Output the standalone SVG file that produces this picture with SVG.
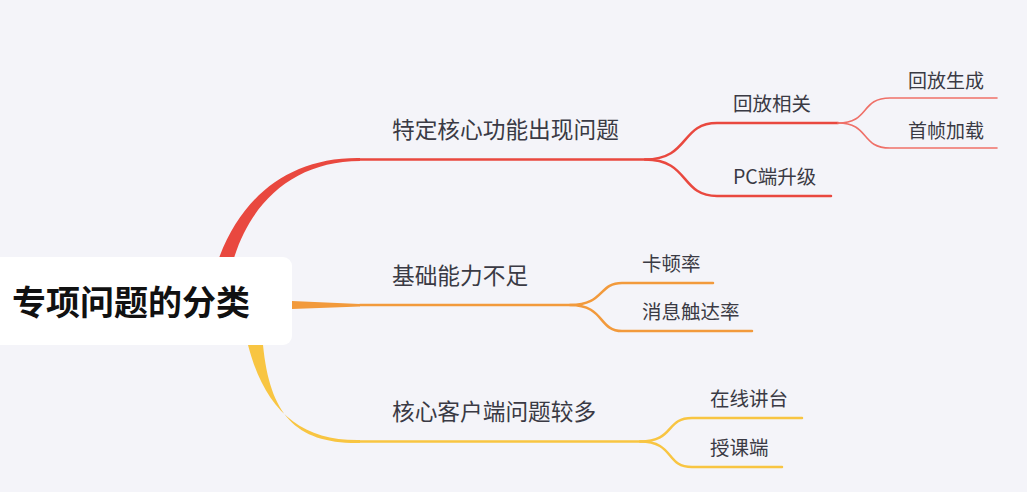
<svg xmlns="http://www.w3.org/2000/svg" width="1027" height="492" viewBox="0 0 1027 492">
<style>
.t{font-family:"Noto Sans CJK SC","Noto Sans",sans-serif;fill:#3a3a44}
.main{font-size:22.7px}
.sub{font-size:19.5px}
.leaf{font-size:19px}
.ln{fill:none;stroke-linecap:round}
.r{stroke:#e9483f}
.rl{stroke:#ef7068}
.o{stroke:#f29a3c}
.y{stroke:#f8c542}
</style>
<rect width="1027" height="492" fill="#f4f4f9"/>
<g id="connectors">
<path d="M219,258 C242,196 290,157 360,158 L360,161 C296,161 252,200 234,258 Z" fill="#e9483f"/>
<path d="M292,301 L360,304 L360,306.5 L292,309 Z" fill="#f29a3c"/>
<path d="M248,345 C265,410 300,441 360,440 L360,443 C296,444 270,415 263,345 Z" fill="#f8c542"/>
<path class="ln r" d="M360,159.5 H645 C690,159.5 680,123 717,123 H838" stroke-width="2.5"/>
<path class="ln r" d="M645,159.5 C690,159.5 680,196 717,196 H831" stroke-width="2.5"/>
<path class="ln rl" d="M838,123 C870,123 860,98 890,98 H997" stroke-width="1.6"/>
<path class="ln rl" d="M838,123 C870,123 860,148 890,148 H997" stroke-width="1.6"/>
<path class="ln o" d="M360,305 H570 C605,305 598,283 622,283 H713" stroke-width="2.5"/>
<path class="ln o" d="M570,305 C605,305 598,331 622,331 H752" stroke-width="2.5"/>
<path class="ln y" d="M360,441.5 H640 C675,441.5 665,418 692,418 H802" stroke-width="2.5"/>
<path class="ln y" d="M640,441.5 C675,441.5 665,467 692,467 H782" stroke-width="2.5"/>
</g>
<g id="root">
<rect x="-12" y="257" width="304" height="88" rx="9" fill="#ffffff"/>
<text class="t" x="12" y="315" font-size="34" font-weight="bold" style="fill:#111">专项问题的分类</text>
</g>
<g id="n1"><text class="t main" x="392" y="138">特定核心功能出现问题</text></g>
<g id="n1a"><text class="t sub" x="733" y="111">回放相关</text></g>
<g id="n1a1"><text class="t leaf" x="908" y="88">回放生成</text></g>
<g id="n1a2"><text class="t leaf" x="908" y="138">首帧加载</text></g>
<g id="n1b"><text class="t sub" x="733" y="184">PC端升级</text></g>
<g id="n2"><text class="t main" x="392" y="284">基础能力不足</text></g>
<g id="n2a"><text class="t sub" x="642" y="271">卡顿率</text></g>
<g id="n2b"><text class="t sub" x="642" y="319">消息触达率</text></g>
<g id="n3"><text class="t main" x="392" y="420">核心客户端问题较多</text></g>
<g id="n3a"><text class="t sub" x="710" y="406">在线讲台</text></g>
<g id="n3b"><text class="t sub" x="710" y="455">授课端</text></g>
</svg>
